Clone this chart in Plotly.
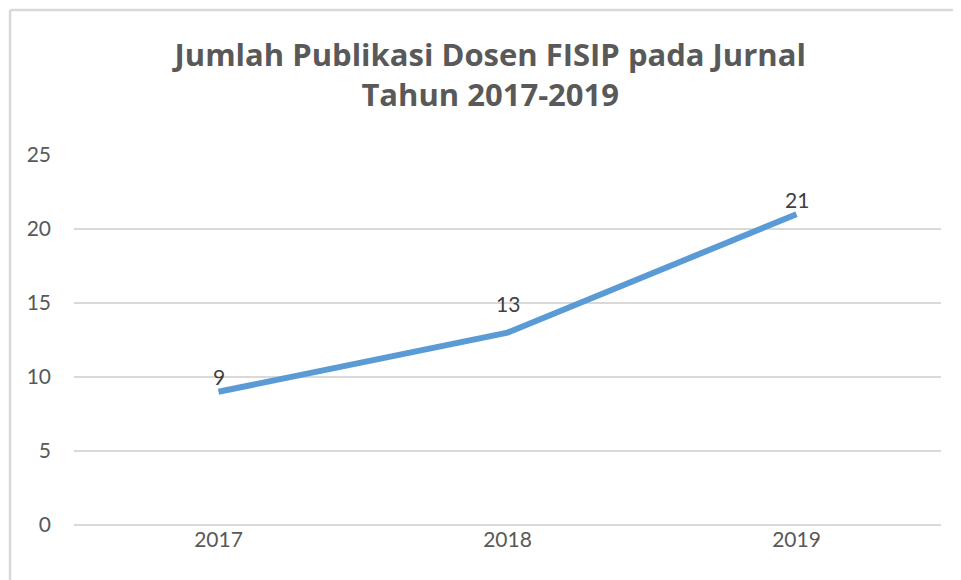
import plotly.graph_objects as go

years = ["2017", "2018", "2019"]
publikasi = [9, 13, 21]
label_shift = [15, 29, 15]  # jarak label dari titik (px)

fig = go.Figure()

fig.add_trace(go.Scatter(
    x=years, y=publikasi, mode="lines",
    line=dict(color="#5B9BD5", width=6),
    hoverinfo="x+y", showlegend=False))

# label data (x pakai indeks kategori)
for i, (y, s) in enumerate(zip(publikasi, label_shift)):
    fig.add_annotation(x=i, y=y, text=str(y), showarrow=False,
                       yshift=s, font=dict(family="Lato", size=21, color="#404040"))

# bingkai grafik (kiri dan atas)
fig.add_shape(type="line", xref="paper", yref="paper",
              x0=-0.0738, x1=-0.0738, y0=-0.2, y1=1.392,
              line=dict(color="#D9D9D9", width=2.5))
fig.add_shape(type="line", xref="paper", yref="paper",
              x0=-0.0738, x1=1.1, y0=1.392, y1=1.392,
              line=dict(color="#D9D9D9", width=2.5))

fig.update_layout(
    width=953, height=572,
    margin=dict(l=66, r=20, t=147, b=55),
    paper_bgcolor="white", plot_bgcolor="white",
    title=dict(text="<b>Jumlah Publikasi Dosen FISIP pada Jurnal<br>Tahun 2017-2019</b>",
               x=0.506, xanchor="center", y=0.899, yanchor="top",
               font=dict(family="Open Sans", size=31, color="#595959")),
    xaxis=dict(type="category", range=[-0.5, 2.5], showgrid=False,
               tickfont=dict(family="Lato", size=21, color="#595959"),
               ticks="", showline=False),
    yaxis=dict(range=[0, 25], dtick=5, showgrid=True, gridcolor="#D9D9D9",
               gridwidth=1.5, zeroline=True, zerolinecolor="#D9D9D9",
               zerolinewidth=1.5, ticks="", ticklabelstandoff=22,
               tickfont=dict(family="Lato", size=21, color="#595959")),
)

fig.write_html("out.html")
